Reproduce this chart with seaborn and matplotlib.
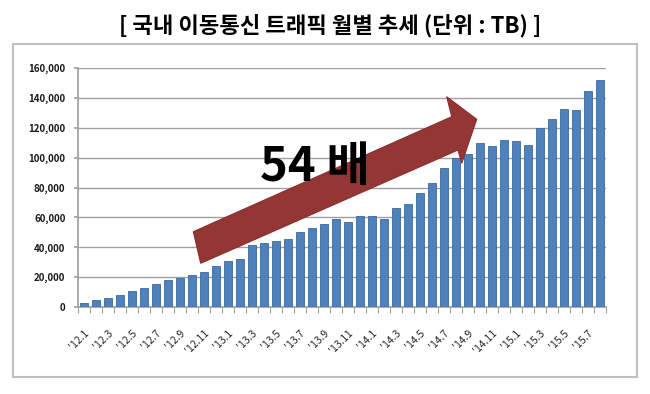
import matplotlib
matplotlib.use("Agg")
import matplotlib.pyplot as plt
import seaborn as sns
import pandas as pd
from matplotlib.patches import Polygon, Rectangle

# ---- data ----
months = ([f"'12.{m}" for m in range(1, 13)] + [f"'13.{m}" for m in range(1, 13)]
          + [f"'14.{m}" for m in range(1, 13)] + [f"'15.{m}" for m in range(1, 9)])
traffic_tb = [2850, 4400, 5700, 8300, 10900, 12700, 15500, 18200, 19700, 21500, 23600, 27600,
              30600, 32000, 41200, 42900, 44400, 45500, 49900, 53200, 55400, 58700, 56900, 60900,
              60900, 58700, 66300, 69000, 76600, 83200, 93000, 99800, 102400, 110100, 107900, 112100,
              111200, 108600, 120000, 125900, 132700, 132200, 144500, 151700]
y_ticks = [0, 20000, 40000, 60000, 80000, 100000, 120000, 140000, 160000]
title = "[ 국내 이동통신 트래픽 월별 추세 (단위 : TB) ]"
callout = "54 배"

df = pd.DataFrame({"month": months, "traffic": traffic_tb})

sns.set_theme(style="white")
plt.rcParams["font.family"] = ["Noto Sans CJK KR", "DejaVu Sans"]

W, H = 650, 394
fig = plt.figure(figsize=(6.5, 3.94), dpi=100)
fig.patch.set_facecolor("white")

def fx(x):
    return x / W

def fy(y):
    return 1 - y / H

# outer frame
fig.patches.append(Rectangle((fx(13), fy(377)), fx(637) - fx(13), fy(44) - fy(377),
                             transform=fig.transFigure, fill=False,
                             edgecolor="#BFBFBF", linewidth=1.5))

ax = fig.add_axes([fx(78), fy(307), fx(606) - fx(78), fy(68) - fy(307)])
sns.barplot(data=df, x="month", y="traffic", ax=ax, color="#4F81BD",
            saturation=1, width=0.6, edgecolor="#3C689E", linewidth=0.6, zorder=3)

ax.set_xlim(-0.5, len(months) - 0.5)
ax.set_ylim(0, 160000)
ax.set_yticks(y_ticks)
ax.set_yticklabels([f"{v:,}" for v in y_ticks], fontsize=7, fontweight="bold",
                   color="#1a1a1a")
ax.yaxis.grid(True, color="#A0A0A0", linewidth=1.0, zorder=0)
ax.xaxis.grid(False)

ax.set_xticks(range(0, len(months), 2))
ax.set_xticklabels(months[::2], rotation=45, ha="right", va="top",
                   rotation_mode="anchor", fontsize=7.5, color="#262626")
ax.set_xticks([i - 0.5 for i in range(len(months) + 1)], minor=True)
ax.tick_params(axis="x", which="major", length=0, pad=15)
ax.tick_params(axis="x", which="minor", length=4, color="#A0A0A0", width=0.8, bottom=True)
ax.tick_params(axis="y", length=3, color="#A0A0A0", pad=6, left=True)
ax.set_xlabel("")
ax.set_ylabel("")
for s in ["top", "right"]:
    ax.spines[s].set_visible(False)
ax.spines["left"].set_color("#A0A0A0")
ax.spines["bottom"].set_color("#A0A0A0")
ax.set_facecolor("white")

# callout arrow (annotation shape in figure pixel coordinates)
pts = [(193.3, 231.7), (451.7, 116.7), (446.7, 96.7), (476.7, 119.3),
       (461.7, 163.3), (458.0, 150.0), (200.7, 263.3)]
fig.patches.append(Polygon([(fx(x), fy(y)) for x, y in pts], closed=True,
                           transform=fig.transFigure, facecolor="#943634",
                           edgecolor="#8A2E2C", linewidth=0.8, zorder=10))

fig.text(fx(315), fy(167), callout, ha="center", va="center", fontsize=34,
         fontweight="bold", color="black", zorder=11)

fig.text(fx(330), fy(26), title, ha="center", va="center", fontsize=16,
         fontweight="bold", color="black")

fig.savefig("out.png", dpi=100, facecolor="white")
